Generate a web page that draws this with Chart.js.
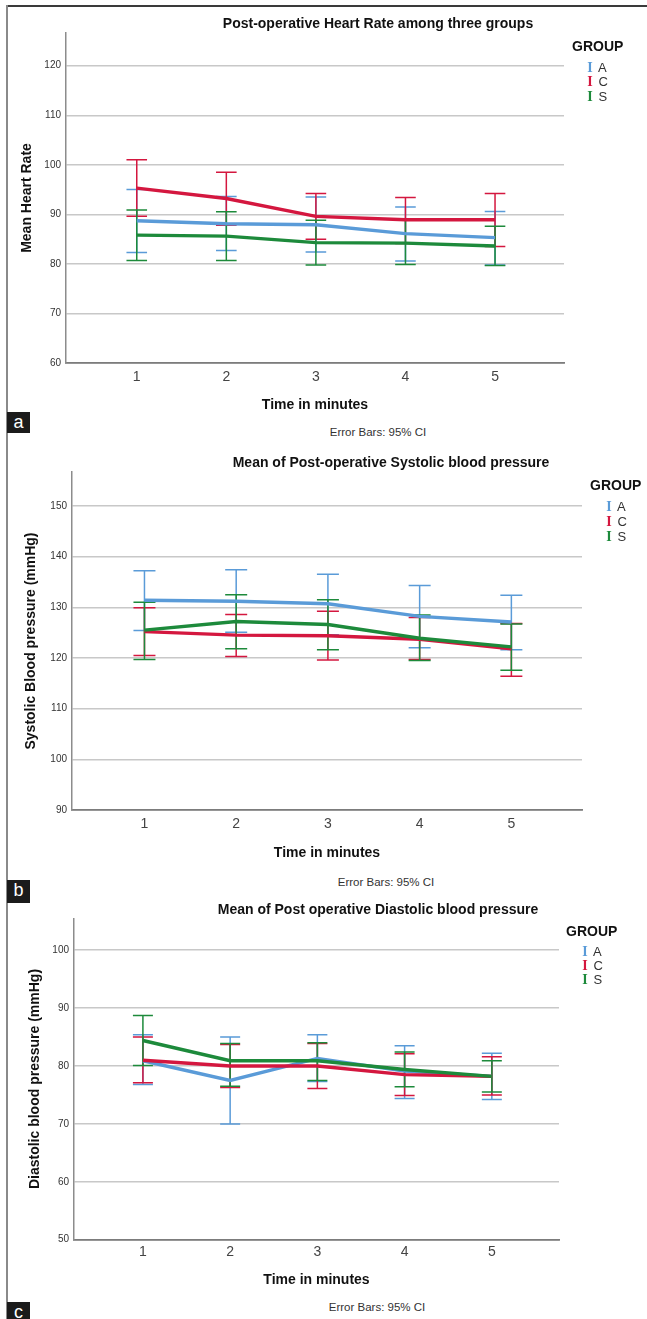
<!DOCTYPE html>
<html>
<head>
<meta charset="utf-8">
<script src="https://cdn.jsdelivr.net/npm/chart.js@4.4.1/dist/chart.umd.min.js"></script>
<style>
  body { margin: 0; background: #fff; font-family: "Liberation Sans", Arial, sans-serif; }
  #page { position: relative; width: 647px; height: 1319px; overflow: hidden; background: #fff; }
  .frame-top { position: absolute; left: 6px; top: 5px; width: 641px; height: 2px; background: #3a3a3a; }
  .frame-left { position: absolute; left: 6px; top: 5px; width: 2px; height: 1314px; background: #8a8a8a; }
  .plot { position: absolute; left: 0; }
  .txt { position: absolute; white-space: nowrap; transform: translate(-50%, -50%); }
  .title { font-weight: bold; font-size: 14px; color: #111; }
  .note { font-size: 11.5px; color: #333; }
  .group { position: absolute; font-weight: bold; font-size: 14px; color: #111; transform: translateY(-50%); }
  .leg { position: absolute; font-size: 13px; color: #333; transform: translateY(-50%); }
  .leg .bar { font-family: "Liberation Serif", serif; font-weight: bold; font-size: 14px; display: inline-block; width: 10px; text-align: center; }
  .tag { position: absolute; left: 7px; width: 23px; background: #1b1b1b; color: #fff; font-size: 18px; line-height: 20px; text-align: center; }
</style>
</head>
<body>
<div id="page">
  <div class="frame-top"></div>
  <div class="frame-left"></div>
</div>
<script>
// time points and groups
const timePoints = [1, 2, 3, 4, 5];
const groupNames = ['A', 'C', 'S'];

// a) heart rate
const hrTicks = [60, 70, 80, 90, 100, 110, 120];
const hrMeanA = [88.7, 88.1, 87.9, 86.1, 85.3];
const hrLowA = [82.3, 82.7, 82.4, 80.6, 79.8];
const hrHighA = [95.0, 93.6, 93.5, 91.5, 90.6];
const hrMeanC = [95.3, 93.2, 89.6, 88.9, 88.9];
const hrLowC = [89.6, 87.8, 85.0, 84.1, 83.5];
const hrHighC = [101.0, 98.5, 94.2, 93.4, 94.2];
const hrMeanS = [85.8, 85.6, 84.3, 84.2, 83.6];
const hrLowS = [80.7, 80.7, 79.8, 79.9, 79.7];
const hrHighS = [90.9, 90.5, 88.8, 88.8, 87.6];

// b) systolic blood pressure
const sbpTicks = [90, 100, 110, 120, 130, 140, 150];
const sbpMeanA = [131.4, 131.2, 130.7, 128.2, 127.1];
const sbpLowA = [125.4, 125.1, 124.6, 122.0, 121.6];
const sbpHighA = [137.2, 137.4, 136.5, 134.3, 132.4];
const sbpMeanC = [125.2, 124.5, 124.4, 123.7, 121.8];
const sbpLowC = [120.5, 120.3, 119.6, 119.7, 116.4];
const sbpHighC = [129.9, 128.6, 129.2, 128.0, 126.8];
const sbpMeanS = [125.5, 127.2, 126.6, 123.9, 122.2];
const sbpLowS = [119.7, 121.8, 121.6, 119.5, 117.6];
const sbpHighS = [131.0, 132.5, 131.5, 128.5, 126.7];

// c) diastolic blood pressure
const dbpTicks = [50, 60, 70, 80, 90, 100];
const dbpMeanA = [80.9, 77.5, 81.3, 79.1, 78.2];
const dbpLowA = [76.8, 70.0, 77.3, 74.4, 74.2];
const dbpHighA = [85.4, 85.0, 85.4, 83.5, 82.2];
const dbpMeanC = [81.0, 80.0, 80.0, 78.5, 78.2];
const dbpLowC = [77.1, 76.3, 76.1, 74.9, 75.0];
const dbpHighC = [85.0, 83.7, 83.9, 82.1, 81.6];
const dbpMeanS = [84.4, 80.9, 80.9, 79.4, 78.2];
const dbpLowS = [80.1, 76.5, 77.5, 76.4, 75.5];
const dbpHighS = [88.7, 83.9, 84.0, 82.4, 80.9];

const groupColors = { A: '#5a9bd8', C: '#d4173f', S: '#1d8a3b' };

// draws the 95% CI whiskers with the chart's own scales
const errorBarPlugin = {
    id: 'errorBars',
    beforeDatasetsDraw(chart) {
        const { ctx, scales: { x, y } } = chart;
        const capHalf = chart.options.plugins.errorBars.capHalf;
        chart.data.datasets.forEach(ds => {
            ctx.save();
            ctx.strokeStyle = ds.borderColor;
            ctx.lineWidth = 1.5;
            ds.data.forEach((pt, i) => {
                const px = x.getPixelForValue(pt.x);
                const top = y.getPixelForValue(ds.ciHigh[i]);
                const bot = y.getPixelForValue(ds.ciLow[i]);
                ctx.beginPath();
                ctx.moveTo(px, top); ctx.lineTo(px, bot);
                ctx.moveTo(px - capHalf, top); ctx.lineTo(px + capHalf, top);
                ctx.moveTo(px - capHalf, bot); ctx.lineTo(px + capHalf, bot);
                ctx.stroke();
            });
            ctx.restore();
        });
    }
};

const page = document.getElementById('page');

function addText(cls, text, x, y) {
    const el = document.createElement('div');
    el.className = cls;
    el.textContent = text;
    el.style.left = x + 'px';
    el.style.top = y + 'px';
    page.appendChild(el);
    return el;
}

function makeDataset(name, means, lows, highs, order) {
    return {
        label: name,
        data: timePoints.map((t, i) => ({ x: t, y: means[i] })),
        ciLow: lows,
        ciHigh: highs,
        borderColor: groupColors[name],
        backgroundColor: groupColors[name],
        borderWidth: 3.4,
        pointRadius: 0,
        tension: 0,
        order: order
    };
}

function makePanel(p) {
    const canvas = document.createElement('canvas');
    canvas.className = 'plot';
    canvas.width = 647;
    canvas.height = p.height;
    canvas.style.top = p.top + 'px';
    page.appendChild(canvas);

    new Chart(canvas.getContext('2d'), {
        type: 'line',
        data: {
            datasets: [
                makeDataset('A', p.series.A[0], p.series.A[1], p.series.A[2], 2),
                makeDataset('C', p.series.C[0], p.series.C[1], p.series.C[2], 1),
                makeDataset('S', p.series.S[0], p.series.S[1], p.series.S[2], 0)
            ]
        },
        options: {
            responsive: false,
            animation: false,
            layout: { autoPadding: false, padding: { left: 0, top: p.padTop, right: p.padRight, bottom: 0 } },
            scales: {
                x: {
                    type: 'linear',
                    min: 0.21,
                    max: 5.77,
                    afterBuildTicks: scale => { scale.ticks = timePoints.map(v => ({ value: v })); },
                    afterFit: scale => { scale.height = p.xAxisHeight; },
                    grid: { display: false, drawTicks: false },
                    border: { display: true, color: '#7c7c7c', width: 1.8 },
                    ticks: { padding: p.xTickPad, font: { family: 'Liberation Sans', size: 14 }, color: '#444' },
                    title: {
                        display: true,
                        text: 'Time in minutes',
                        font: { family: 'Liberation Sans', size: 14, weight: 'bold', lineHeight: 1.2 },
                        color: '#111',
                        padding: { top: 0, bottom: p.xTitlePad }
                    }
                },
                y: {
                    min: p.yMin,
                    max: p.yMax,
                    afterBuildTicks: scale => { scale.ticks = p.yTicks.map(v => ({ value: v })); },
                    afterFit: scale => { scale.width = p.yAxisWidth; },
                    grid: { color: '#c8c8c8', lineWidth: 1.5, drawTicks: false },
                    border: { display: true, color: '#8c8c8c', width: 1.5 },
                    ticks: { padding: 5, font: { family: 'Liberation Sans', size: 10 }, color: '#333' },
                    title: {
                        display: true,
                        text: p.yTitle,
                        font: { family: 'Liberation Sans', size: 14, weight: 'bold', lineHeight: 1.2 },
                        color: '#111',
                        padding: { top: p.yTitlePad, bottom: 0 }
                    }
                }
            },
            plugins: {
                legend: { display: false },
                tooltip: { enabled: false },
                errorBars: { capHalf: p.capHalf }
            }
        },
        plugins: [errorBarPlugin]
    });

    // title, legend and notes
    addText('txt title', p.title, p.titleX, p.titleY);
    addText('txt note', 'Error Bars: 95% CI', p.noteX, p.noteY);
    addText('group', 'GROUP', p.legX, p.legY);
    groupNames.forEach((name, i) => {
        const item = document.createElement('div');
        item.className = 'leg';
        item.style.left = (p.legBarX - 5) + 'px';
        item.style.top = p.legItemsY[i] + 'px';
        item.innerHTML = '<span class="bar" style="color:' + groupColors[name] + '">I</span> ' + name;
        page.appendChild(item);
    });
    const tag = document.createElement('div');
    tag.className = 'tag';
    tag.textContent = p.tag;
    tag.style.top = p.tagY + 'px';
    tag.style.height = p.tagH + 'px';
    page.appendChild(tag);
}

makePanel({
    top: 0, height: 420, padTop: 33, padRight: 83, yAxisWidth: 66, xAxisHeight: 57,
    yMin: 60, yMax: 126.6, yTicks: hrTicks, yTitle: 'Mean Heart Rate', yTitlePad: 18.6,
    xTickPad: 5.6, xTitlePad: 6.6, capHalf: 10.3,
    series: { A: [hrMeanA, hrLowA, hrHighA], C: [hrMeanC, hrLowC, hrHighC], S: [hrMeanS, hrLowS, hrHighS] },
    title: 'Post-operative Heart  Rate among three groups', titleX: 378, titleY: 23,
    noteX: 378, noteY: 432,
    legX: 572, legY: 46, legBarX: 590, legItemsY: [68, 82, 97],
    tag: 'a', tagY: 412, tagH: 21
});

makePanel({
    top: 440, height: 430, padTop: 32, padRight: 65, yAxisWidth: 72, xAxisHeight: 60,
    yMin: 90, yMax: 156.7, yTicks: sbpTicks, yTitle: 'Systolic Blood pressure (mmHg)', yTitlePad: 22.6,
    xTickPad: 5.6, xTitlePad: 8.6, capHalf: 11,
    series: { A: [sbpMeanA, sbpLowA, sbpHighA], C: [sbpMeanC, sbpLowC, sbpHighC], S: [sbpMeanS, sbpLowS, sbpHighS] },
    title: 'Mean of Post-operative Systolic blood pressure', titleX: 391, titleY: 462,
    noteX: 386, noteY: 882,
    legX: 590, legY: 485, legBarX: 609, legItemsY: [507, 522, 537],
    tag: 'b', tagY: 880, tagH: 23
});

makePanel({
    top: 880, height: 420, padTop: 38.3, padRight: 88, yAxisWidth: 74, xAxisHeight: 60.3,
    yMin: 50, yMax: 105.5, yTicks: dbpTicks, yTitle: 'Diastolic blood pressure (mmHg)', yTitlePad: 26.6,
    xTickPad: 4.2, xTitlePad: 11.6, capHalf: 10,
    series: { A: [dbpMeanA, dbpLowA, dbpHighA], C: [dbpMeanC, dbpLowC, dbpHighC], S: [dbpMeanS, dbpLowS, dbpHighS] },
    title: 'Mean of Post operative Diastolic blood pressure', titleX: 378, titleY: 909,
    noteX: 377, noteY: 1307,
    legX: 566, legY: 931, legBarX: 585, legItemsY: [952, 966, 980],
    tag: 'c', tagY: 1302, tagH: 20
});
</script>
</body>
</html>
